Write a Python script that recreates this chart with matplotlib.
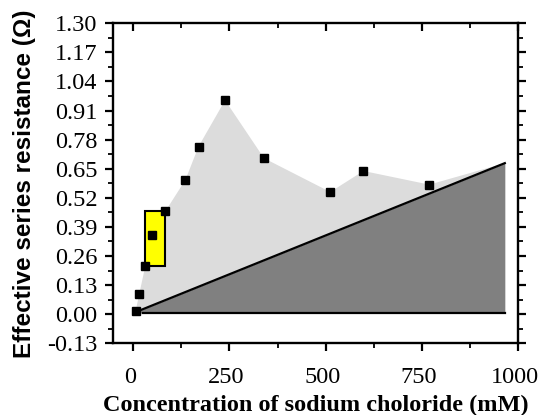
import numpy as np
import matplotlib
matplotlib.use('Agg')
from matplotlib import pyplot as plt
from matplotlib.patches import Rectangle
from matplotlib.ticker import MultipleLocator, FormatStrFormatter
from matplotlib.transforms import ScaledTranslation

plt.rcParams['axes.unicode_minus'] = False

# measured points
conc = [7, 16, 32, 50, 84, 136, 170, 239, 340, 512, 598, 769]
esr = [0.015, 0.089, 0.216, 0.354, 0.460, 0.600, 0.749, 0.956, 0.697, 0.546, 0.640, 0.579]

# linear trend (dark region) and its base
fit_x = [15, 965]
fit_y = [0.015, 0.675]
base_y = 0.005

# highlighted box (x range, y range)
box_x = [32, 84]
box_y = [0.216, 0.461]

fig = plt.figure(figsize=(5.38, 4.15), dpi=100)
ax = fig.add_axes([0.210, 0.1728, 0.7534, 0.7711])

# light gray envelope between points and trend line
poly_x = conc + [fit_x[1]] + fit_x[::-1]
poly_y = esr + [fit_y[1]] + fit_y[::-1]
ax.fill(poly_x, poly_y, color='#dcdcdc', lw=0, zorder=1)

# dark triangle under the trend line
ax.fill_between(fit_x, fit_y, base_y, color='#808080', lw=0, zorder=2)
ax.plot(fit_x, fit_y, color='black', lw=1.6, zorder=3)
ax.plot([26, fit_x[1]], [base_y, base_y], color='black', lw=1.6, zorder=3)

ax.add_patch(Rectangle((box_x[0], box_y[0]), box_x[1] - box_x[0], box_y[1] - box_y[0],
                       facecolor='#ffff00', edgecolor='black', lw=1.5, zorder=4))

ax.plot(conc, esr, 's', color='black', ms=6.2, zorder=5)

ax.set_xlim(-52, 1000)
ax.set_ylim(-0.13, 1.30)
ax.xaxis.set_major_locator(MultipleLocator(250))
ax.xaxis.set_minor_locator(MultipleLocator(125))
ax.set_yticks(np.arange(-0.13, 1.31, 0.13))
ax.yaxis.set_minor_locator(MultipleLocator(0.065))
ax.yaxis.set_major_formatter(FormatStrFormatter('%.2f'))

for s in ax.spines.values():
    s.set_linewidth(1.7)

ax.tick_params(which='major', direction='out', length=6, width=1.6, labelsize=17.5, pad=5)
ax.tick_params(which='minor', direction='out', length=3.5, width=1.3)
ax.tick_params(axis='x', which='major', pad=11)
ax.tick_params(top=True, right=True, which='both')
for t in ax.xaxis.get_major_ticks() + ax.xaxis.get_minor_ticks():
    t.tick2line.set_marker(3)
for t in ax.yaxis.get_major_ticks() + ax.yaxis.get_minor_ticks():
    t.tick2line.set_marker(1)

for lab in ax.get_xticklabels() + ax.get_yticklabels():
    lab.set_family('Liberation Serif')

# x labels sit a little left of their ticks, the last one kept inside the figure
xlabs = ax.get_xticklabels()
for i, lab in enumerate(xlabs):
    dx = -7 if i == len(xlabs) - 1 else -3
    lab.set_transform(lab.get_transform() + ScaledTranslation(dx / 100, 0, fig.dpi_scale_trans))

ax.set_xlabel('Concentration of sodium choloride (mM)', family='Liberation Serif',
              fontweight='bold', fontsize=17.5, labelpad=5)
ax.set_ylabel('Effective series resistance (\u03a9)', family='Liberation Sans',
              fontweight='bold', fontsize=17.5, labelpad=8)

fig.savefig('out.png', dpi=100)
